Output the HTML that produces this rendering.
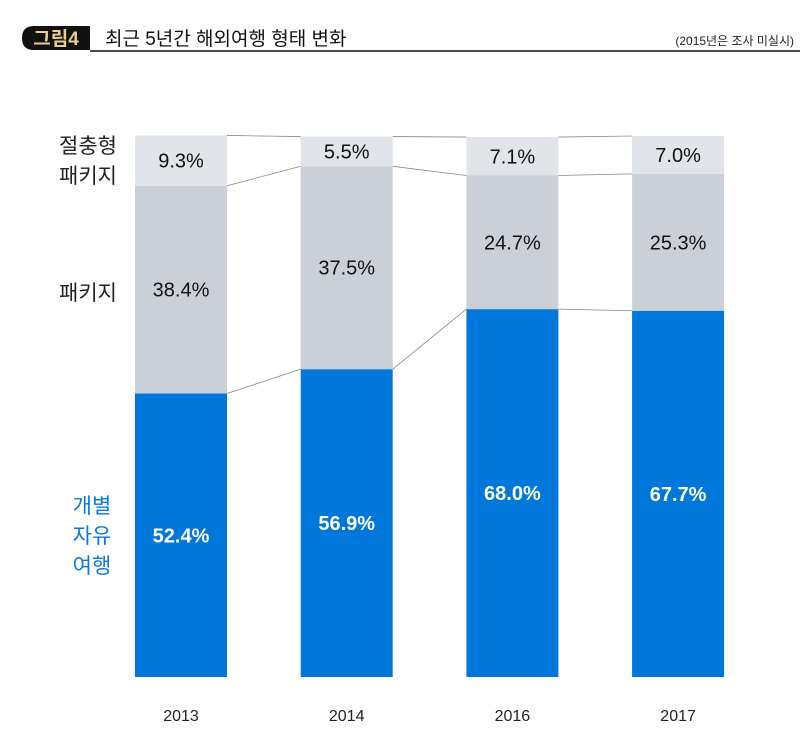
<!DOCTYPE html>
<html><head><meta charset="utf-8"><style>
body{margin:0;background:#fff;width:800px;height:747px;overflow:hidden;font-family:"Liberation Sans","Noto Sans CJK KR",sans-serif}
</style></head><body>
<svg width="800" height="747" xmlns="http://www.w3.org/2000/svg">
<g>
<path d="M34 26 H90 V50 H34 Q22 50 22 38 Q22 26 34 26 Z" fill="#111"/>
<text x="56" y="45" fill="#e8cf8a" font-size="19" font-weight="bold" text-anchor="middle">그림4</text>
<line x1="90" y1="51" x2="800" y2="51" stroke="#111" stroke-width="1.5"/>
<text x="105" y="45" font-size="19" fill="#111">최근 5년간 해외여행 형태 변화</text>
<text x="794" y="45" font-size="12" fill="#222" text-anchor="end">(2015년은 조사 미실시)</text>
</g>
<g id="plot"></g>
<text x="88" y="153" font-size="21" fill="#222" text-anchor="middle">절충형</text>
<text x="88" y="183" font-size="21" fill="#222" text-anchor="middle">패키지</text>
<text x="88" y="300" font-size="21" fill="#222" text-anchor="middle">패키지</text>
<text x="92" y="513" font-size="21" fill="#0a78d8" text-anchor="middle">개별</text>
<text x="92" y="543" font-size="21" fill="#0a78d8" text-anchor="middle">자유</text>
<text x="92" y="573" font-size="21" fill="#0a78d8" text-anchor="middle">여행</text>
</svg>
<script>
const years=["2013","2014","2016","2017"];
const independent=[52.4,56.9,68.0,67.7];
const pkg=[38.4,37.5,24.7,25.3];
const hybrid=[9.3,5.5,7.1,7.0];
const NS="http://www.w3.org/2000/svg";
const g=document.getElementById('plot');
const x0=135,step=165.7,bw=92,base=677,scale=5.41;
const X=i=>x0+i*step;
const Y=v=>base-v*scale;
function mk(t,a){const e=document.createElementNS(NS,t);for(const k in a)e.setAttribute(k,a[k]);g.appendChild(e);return e;}
const segs=[[independent,"#0077db","#fff","bold","independent"],[pkg,"#cbd0d8","#111","normal","package"],[hybrid,"#e1e4e8","#111","normal","hybrid"]];
years.forEach((yr,i)=>{
  let cum=0;
  segs.forEach(([arr,fill,tc,fw,nm])=>{
    const v=arr[i];
    const r=mk('rect',{x:X(i),y:Y(cum+v),width:bw,height:v*scale,fill:fill});
    
    
    const t=mk('text',{x:X(i)+bw/2,y:Y(cum+v/2)+7,'font-size':20,fill:tc,'font-weight':fw,'text-anchor':'middle'});
    t.textContent=v.toFixed(1)+'%';
    
    
    cum+=v;
  });
  const t=mk('text',{x:X(i)+bw/2,y:721,'font-size':16,fill:'#222','text-anchor':'middle'});
  t.textContent=yr;
  
  
  if(i<years.length-1){
    const c1=[independent[i],independent[i]+pkg[i],independent[i]+pkg[i]+hybrid[i]];
    const c2=[independent[i+1],independent[i+1]+pkg[i+1],independent[i+1]+pkg[i+1]+hybrid[i+1]];
    c1.forEach((v,k)=>{
      const l=mk('line',{x1:X(i)+bw,y1:Y(v),x2:X(i+1),y2:Y(c2[k]),stroke:'#888','stroke-width':0.8});
      
      
    });
  }
});
</script>
</body></html>
